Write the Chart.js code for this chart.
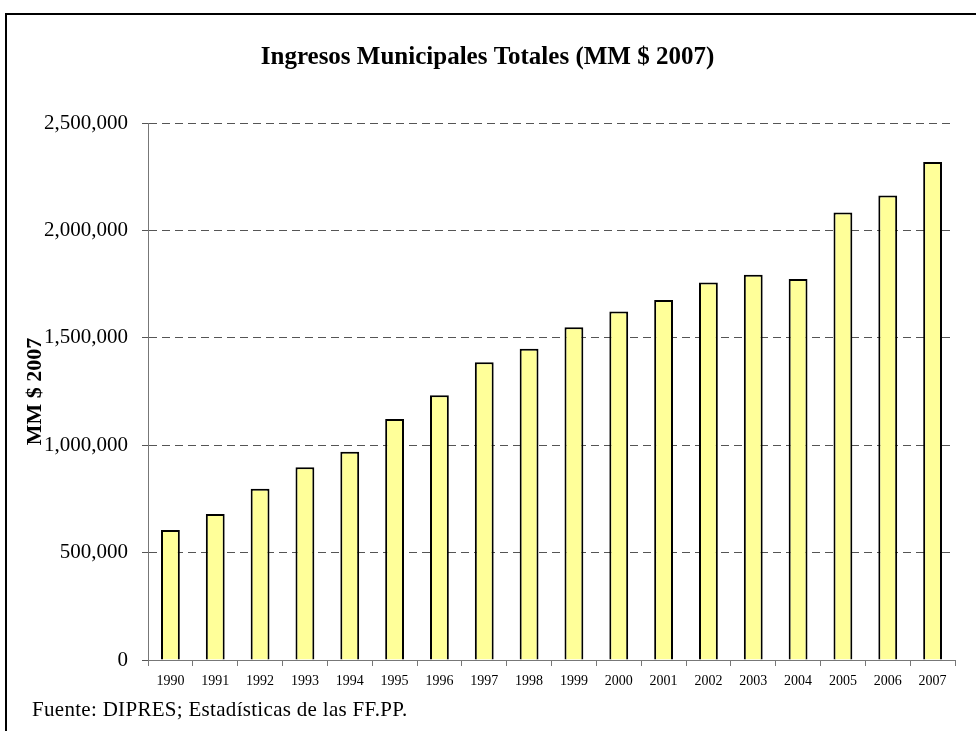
<!DOCTYPE html>
<html>
<head>
<meta charset="utf-8">
<script src="https://cdn.jsdelivr.net/npm/chart.js@4/dist/chart.umd.min.js"></script>
<style>
  html, body { margin: 0; padding: 0; background: #fff; overflow: hidden; }
  #wrap { position: relative; width: 976px; height: 731px; overflow: hidden; }
  #frame { position: absolute; left: 5px; top: 13px; width: 1000px; height: 800px; border: 2px solid #000; }
  #myChart { position: absolute; left: 0; top: 0; }
  #fuente { position: absolute; left: 32px; top: 697px; font: 21px "Liberation Serif", serif; letter-spacing: 0.3px; color: #000; }
</style>
</head>
<body>
<div id="wrap">
  <div id="frame"></div>
  <canvas id="myChart" width="976" height="731"></canvas>
  <div id="fuente">Fuente: DIPRES; Estadísticas de las FF.PP.</div>
</div>
<script>
const years = ["1990", "1991", "1992", "1993", "1994", "1995", "1996", "1997", "1998",
  "1999", "2000", "2001", "2002", "2003", "2004", "2005", "2006", "2007"];
const ingresos = [605000, 680000, 797000, 897000, 970000, 1122000, 1232000, 1386000, 1449000,
  1549000, 1622000, 1676000, 1757000, 1794000, 1774000, 2083000, 2163000, 2318000];
const yTicks = [0, 500000, 1000000, 1500000, 2000000, 2500000];

const serif = "'Liberation Serif', 'Times New Roman', serif";

const ctx = document.querySelector("#myChart").getContext("2d");

const data = {
  labels: years,
  datasets: [
    {
      data: ingresos,
      backgroundColor: "#FFFF99",
      borderColor: "#000",
      borderWidth: 2,
      barPercentage: 0.42,
      categoryPercentage: 1,
    },
  ],
};

const config = {
  type: "bar",
  data: data,
  options: {
    responsive: false,
    animation: false,
    devicePixelRatio: 1,
    layout: {
      padding: { left: 20, right: 21, top: 0, bottom: 40 },
    },
    scales: {
      x: {
        afterFit: (s) => { s.height = 31; },
        border: { color: "#777", width: 1 },
        grid: {
          drawOnChartArea: false,
          drawTicks: true,
          tickLength: 6,
          color: "#777",
        },
        ticks: {
          color: "#000",
          padding: 7,
          maxRotation: 0,
          font: { family: serif, size: 14 },
        },
      },
      y: {
        min: 0,
        max: 2500000,
        afterFit: (s) => { s.width = 128; },
        afterBuildTicks: (s) => { s.ticks = yTicks.map((v) => ({ value: v })); },
        // in v4 the grid line dash lives under border.dash
        border: { color: "#777", width: 1, dash: [8, 5] },
        grid: {
          color: "#555",
          tickBorderDash: [],
          tickLength: 6,
        },
        ticks: {
          color: "#000",
          padding: 14,
          font: { family: serif, size: 21 },
          callback: (v) => v.toLocaleString("en-US"),
        },
        title: {
          display: true,
          text: "MM $ 2007",
          color: "#000",
          padding: { top: 2, bottom: 0 },
          font: { family: serif, size: 22, weight: "bold" },
        },
      },
    },
    plugins: {
      legend: { display: false },
      tooltip: { enabled: false },
      title: {
        display: true,
        text: "Ingresos Municipales Totales (MM $ 2007)",
        color: "#000",
        padding: { top: 43, bottom: 50 },
        font: { family: serif, size: 25, weight: "bold" },
      },
    },
  },
};

const myChart = new Chart(ctx, config);
</script>
</body>
</html>
